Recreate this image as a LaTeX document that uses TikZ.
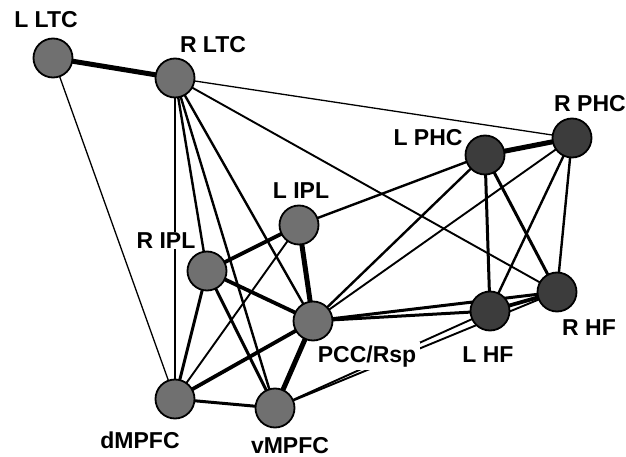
\documentclass[tikz,border=0pt]{standalone}
\usepackage{fontspec}
\setmainfont{Liberation Sans}
\definecolor{nodegray}{RGB}{112,112,112}
\definecolor{nodedark}{RGB}{60,60,60}
\begin{document}
\begin{tikzpicture}[x=1pt,y=-1pt,
  roi/.style={circle,draw=black,line width=1.8pt,minimum size=39pt,inner sep=0pt,fill=nodegray},
  roidark/.style={roi,fill=nodedark},
  lbl/.style={anchor=base,fill=white,inner sep=0.5pt,font=\fontsize{23}{24}\selectfont\bfseries},
  ea/.style={line width=1.3pt},
  eb/.style={line width=1.9pt},
  ec/.style={line width=2.4pt},
  ed/.style={line width=3pt},
  ee/.style={line width=3.8pt},
  ef/.style={line width=5pt}]
\useasboundingbox (0,0) rectangle (626,457);
% node coordinates
\coordinate (pLLTC) at (53,58);
\coordinate (pRLTC) at (175,78);
\coordinate (pLIPL) at (299,225);
\coordinate (pRIPL) at (207,271);
\coordinate (pPCC) at (313,321);
\coordinate (pdM) at (175,399);
\coordinate (pvM) at (275,408);
\coordinate (pLPHC) at (485,155);
\coordinate (pRPHC) at (572,138);
\coordinate (pLHF) at (490,311);
\coordinate (pRHF) at (557,292);
% edges
\draw[ef] (pLLTC) -- (pRLTC);
\draw[ea] (pLLTC) -- (pdM);
\draw[ea] (pRLTC) -- (pRPHC);
\draw[eb] (pRLTC) -- (pRHF);
\draw[ea] (pRLTC) -- (pdM);
\draw[ec] (pRLTC) -- (pRIPL);
\draw[ec] (pRLTC) -- (pvM);
\draw[ec] (pRLTC) -- (pPCC);
\draw[ee] (pRIPL) -- (pLIPL);
\draw[ee] (pRIPL) -- (pPCC);
\draw[ed] (pRIPL) -- (pdM);
\draw[ed] (pRIPL) -- (pvM);
\draw[ef] (pLIPL) -- (pPCC);
\draw[eb] (pLIPL) -- (pdM);
\draw[ec] (pLIPL) -- (pLPHC);
\draw[ee] (pPCC) -- (pdM);
\draw[ef] (pPCC) -- (pvM);
\draw[ed] (pdM) -- (pvM);
\draw[ec] (pPCC) -- (pLPHC);
\draw[eb] (pPCC) -- (pRPHC);
\draw[ed] (pPCC) -- (pLHF);
\draw[ed] (pPCC) -- (pRHF);
\draw[eb] (pvM) -- (pLHF);
\draw[eb] (pvM) -- (pRHF);
\draw[ef] (pLPHC) -- (pRPHC);
\draw[ed] (pLPHC) -- (pLHF);
\draw[ed] (pLPHC) -- (pRHF);
\draw[ec] (pRPHC) -- (pLHF);
\draw[ec] (pRPHC) -- (pRHF);
\draw[ee] (pLHF) -- (pRHF);
% nodes
\node[roi] (LLTC) at (pLLTC) {};
\node[roi] (RLTC) at (pRLTC) {};
\node[roi] (LIPL) at (pLIPL) {};
\node[roi] (RIPL) at (pRIPL) {};
\node[roi] (PCC) at (pPCC) {};
\node[roi] (dM) at (pdM) {};
\node[roi] (vM) at (pvM) {};
\node[roidark] (LPHC) at (pLPHC) {};
\node[roidark] (RPHC) at (pRPHC) {};
\node[roidark] (LHF) at (pLHF) {};
\node[roidark] (RHF) at (pRHF) {};
% labels
\node[lbl] (tLLTC) at (46,28) {L LTC};
\node[lbl] (tRLTC) at (213,53) {R LTC};
\node[lbl] (tLIPL) at (301,199) {L IPL};
\node[lbl] (tRIPL) at (166,248) {R IPL};
\node[lbl,inner sep=3.5pt] (tPCC) at (367,362) {PCC/Rsp};
\node[lbl] (tLHF) at (488,362) {L HF};
\node[lbl] (tdM) at (140,448) {dMPFC};
\node[lbl] (tvM) at (290,453) {vMPFC};
\node[lbl] (tLPHC) at (428,146) {L PHC};
\node[lbl] (tRPHC) at (590,112) {R PHC};
\node[lbl] (tRHF) at (589,335) {R HF};
\end{tikzpicture}
\end{document}
